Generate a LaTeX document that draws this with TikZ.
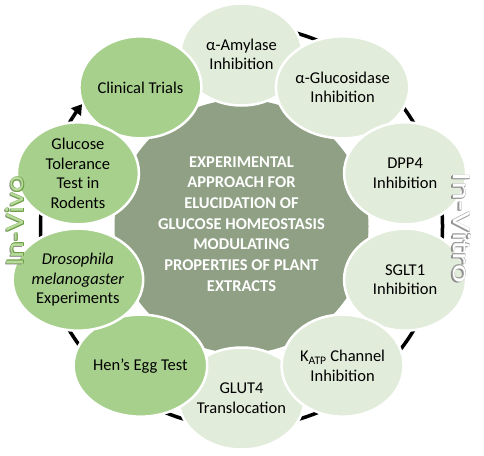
\documentclass[tikz,border=0pt]{standalone}
\usepackage{fontspec}
\setmainfont{Carlito}
\usetikzlibrary{shapes.geometric,arrows.meta,calc}
\definecolor{vitrofill}{HTML}{E2ECDA}
\definecolor{vivofill}{HTML}{A8D08D}
\definecolor{hubfill}{HTML}{8FA084}
\definecolor{vivoedge}{HTML}{6E9F45}
\definecolor{vivoinner}{HTML}{B8DA9C}
\definecolor{labelshade}{HTML}{8C8C8C}
\definecolor{vitroedge}{HTML}{9A9A9A}
\begin{document}
\begin{tikzpicture}[
  bubble/.style={ellipse, minimum width=122pt, minimum height=102pt, inner sep=0pt,
    draw=white, line width=2.5pt, align=center, text=black,
    font=\fontsize{16.5}{19.6}\selectfont},
  vitrob/.style={bubble, fill=vitrofill},
  vivob/.style={bubble, fill=vivofill},
  ring/.style={line width=3.5pt, black},
  sidelabel/.style={inner sep=0pt, font=\fontsize{26}{30}\selectfont},
]
\fill[white] (0,0) rectangle (484pt,-455pt);
\useasboundingbox (0,0) rectangle (484pt,-455pt);
\coordinate (C) at (241.5pt,-226.5pt);

% hub
\node[circle, fill=hubfill, minimum size=254pt, inner sep=0pt] (hub) at (C) {};

% cycle ring (behind the bubbles)
\coordinate (ringstart) at ($(C)+(95:201pt)$);
\draw[ring] (ringstart) arc[start angle=95, end angle=-213, radius=201pt] coordinate (ringend);

% bubbles
\node[vitrob] (amyl) at ($(C)+(90:172pt)$) {α-Amylase\\Inhibition};
\node[vitrob] (gluc) at ($(C)+(54:172pt)$) {α-Glucosidase\\Inhibition};
\node[vitrob] (dpp) at ($(C)+(18:172pt)$) {DPP4\\Inhibition};
\node[vitrob] (sglt) at ($(C)+(-18:172pt)$) {SGLT1\\Inhibition};
\node[vitrob] (glut) at ($(C)+(-90:172pt)$) {GLUT4\\Translocation};
\node[vitrob] (katp) at ($(C)+(-54:172pt)$) {K\textsubscript{ATP} Channel\\Inhibition};
\node[vivob] (hen) at ($(C)+(-126:172pt)$) {Hen’s Egg Test};
\node[vivob] (dros) at ($(C)+(-162:172pt)$) {\textit{Drosophila}\\\textit{melanogaster}\\Experiments};
\node[vivob] (clin) at ($(C)+(126:172pt)$) {Clinical Trials};
\node[vivob] (gtt) at ($(C)+(162:172pt)$) {Glucose\\Tolerance\\Test in\\Rodents};

% arrow head entering Clinical Trials
\draw[ring, -{Triangle[length=10pt,width=12pt]}] (ringend) arc[start angle=-213, end angle=-217.5, radius=201pt];

% hub text
\node[align=center, text=white, font=\fontsize{16.5}{20.7}\selectfont\bfseries] (hubtext) at (241.5pt,-224pt)
  {EXPERIMENTAL\\APPROACH FOR\\ELUCIDATION OF\\GLUCOSE HOMEOSTASIS\\MODULATING\\PROPERTIES OF PLANT\\EXTRACTS};

% side labels
\coordinate (vivopos) at (15pt,-221pt);
\coordinate (vitropos) at (462pt,-228pt);
\node[sidelabel, rotate=90, text=labelshade] (vivoshadow) at ($(vivopos)+(-1.3pt,-1pt)$) {\scalebox{1.22}[1]{In-Vivo}};
\foreach \dx/\dy [count=\i] in {0.5/0.5,0.5/-0.5,-0.5/0.5,-0.5/-0.5}
  \node[sidelabel, rotate=90, text=vivoedge] (vivoedge\i) at ($(vivopos)+(\dx pt,\dy pt)$) {\scalebox{1.22}[1]{In-Vivo}};
\node[sidelabel, rotate=90, text=vivoinner] (vivolabel) at (vivopos) {\scalebox{1.22}[1]{In-Vivo}};

\node[sidelabel, rotate=-90, text=labelshade] (vitroshadow) at ($(vitropos)+(-1.3pt,-1pt)$) {\scalebox{1.38}[1]{In-Vitro}};
\foreach \dx/\dy [count=\i] in {0.5/0.5,0.5/-0.5,-0.5/0.5,-0.5/-0.5}
  \node[sidelabel, rotate=-90, text=vitroedge] (vitroedge\i) at ($(vitropos)+(\dx pt,\dy pt)$) {\scalebox{1.38}[1]{In-Vitro}};
\node[sidelabel, rotate=-90, text=white] (vitrolabel) at (vitropos) {\scalebox{1.38}[1]{In-Vitro}};
\end{tikzpicture}
\end{document}
